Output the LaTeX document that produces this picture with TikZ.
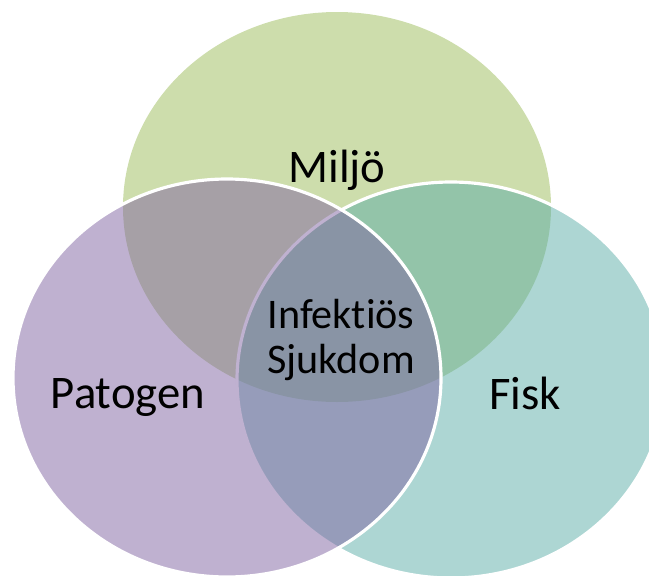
\documentclass[tikz,border=0pt]{standalone}
\usepackage{fontspec}
\setmainfont{Carlito}[Ligatures=NoCommon]
\usepackage{xcolor}
\usepackage{tikz}
\definecolor{envgreen}{HTML}{9BBB59}
\definecolor{pathpurple}{HTML}{8064A2}
\definecolor{fishteal}{HTML}{5BADA7}
\tikzset{
  vennFill/.style={fill opacity=0.5},
  vennCircle/.style={draw=white, line width=1.8pt, fill opacity=0.5},
  vennLabel/.style={text=black, font=\fontsize{26.6}{30}\selectfont, anchor=base},
  vennCore/.style={text=black, font=\fontsize{24}{25.6}\selectfont, align=center, anchor=base}
}

\begin{document}
\begin{tikzpicture}[x=0.02cm, y=-0.02cm]
  \useasboundingbox (0,0) rectangle (649,575);
  \clip (0,0) rectangle (649,575);
  \coordinate (M) at (337,207);
  \coordinate (P) at (227,378);
  \coordinate (F) at (451,380);

  \fill[vennFill, fill=envgreen] (M) ellipse [x radius=214, y radius=195];
  \filldraw[vennCircle, fill=fishteal] (F) ellipse [x radius=214, y radius=198];
  \filldraw[vennCircle, fill=pathpurple] (P) ellipse [x radius=214, y radius=199];

  \node[vennLabel] (miljo) at (337,182) {Miljö};
  \node[vennLabel] (patogen) at (128,408) {Patogen};
  \node[vennLabel] (fisk) at (525,409) {Fisk};
  \node[vennCore] (sjukdom) at (341,373) {Infektiös\\Sjukdom};
\end{tikzpicture}
\end{document}
